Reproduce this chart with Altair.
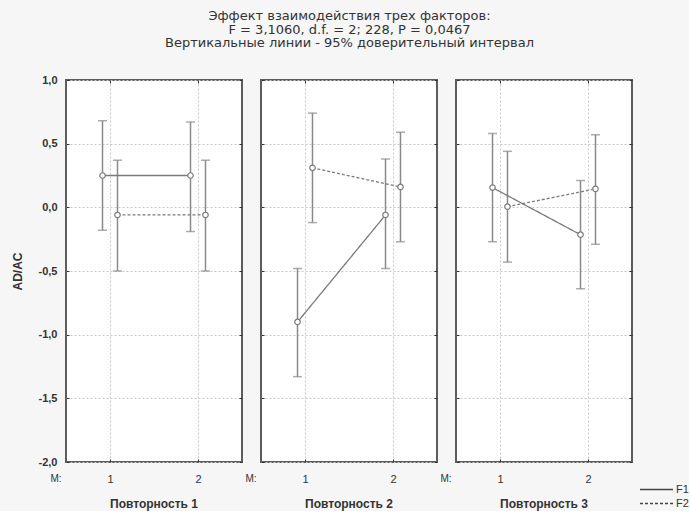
import altair as alt
import pandas as pd

# Three-way interaction: means of AD/AC with 95% confidence intervals
panel_names = ["Повторность 1", "Повторность 2", "Повторность 3"]
m_levels = [1, 2]
factor_names = ["F1", "F2"]

# per panel, per M level
f1_mean = [[0.25, 0.25], [-0.90, -0.06], [0.155, -0.215]]
f1_low = [[-0.18, -0.19], [-1.33, -0.48], [-0.27, -0.64]]
f1_high = [[0.68, 0.67], [-0.48, 0.38], [0.58, 0.21]]

f2_mean = [[-0.06, -0.06], [0.31, 0.16], [0.005, 0.145]]
f2_low = [[-0.50, -0.50], [-0.12, -0.27], [-0.43, -0.29]]
f2_high = [[0.37, 0.37], [0.74, 0.59], [0.44, 0.57]]

y_ticks = [1.0, 0.5, 0.0, -0.5, -1.0, -1.5, -2.0]

title_lines = [
    "Эффект взаимодействия трех факторов:",
    "F = 3,1060, d.f. = 2; 228, P = 0,0467",
    "Вертикальные линии - 95% доверительный интервал",
]

rows = []
for p, name in enumerate(panel_names):
    for fac, mean, lo, hi in [
        ("F1", f1_mean, f1_low, f1_high),
        ("F2", f2_mean, f2_low, f2_high),
    ]:
        for i, m in enumerate(m_levels):
            rows.append(
                {"panel": name, "factor": fac, "M": m,
                 "mean": mean[p][i], "lo": lo[p][i], "hi": hi[p][i]}
            )
df = pd.DataFrame(rows)

FONT = "Liberation Sans"
TEXT = "#333333"
GREY = "#8a8a8a"
LINE = "#7a7a7a"

comma_fmt = "replace(replace(format(datum.value, '.1f'), '.', ','), '\u2212', '-')"


def panel(name, first):
    base = alt.Chart(df).transform_filter(
        alt.datum.panel == name
    ).transform_calculate(
        xpos="datum.M + (datum.factor == 'F1' ? -0.085 : 0.085)"
    )
    xscale = alt.Scale(domain=[0.5, 2.5], nice=False, zero=False)
    yscale = alt.Scale(domain=[-2.0, 1.0], nice=False, zero=False)

    x_bottom = alt.Axis(
        values=m_levels, format="d", offset=-3, tickSize=3, tickColor="#333",
        domain=False, labelPadding=11, labelFontSize=11, labelColor=TEXT,
        labelFont=FONT, grid=True, gridColor="#c8c8c8", gridDash=[2, 2],
        title="M:", titleFontSize=10, titleFontWeight="normal", titleColor=TEXT,
        titleFont=FONT, titleX=-5, titleY=14, titleAlign="right",
        titleBaseline="top", titleAngle=0,
    )
    y_left = alt.Axis(
        values=y_ticks, labelExpr=comma_fmt, offset=-3, tickSize=3,
        tickColor="#333", domain=False, labelPadding=9, labelFontSize=11,
        labelColor=TEXT, labelFont=FONT, labelFontWeight="bold",
        labels=first, grid=True, gridColor="#c8c8c8", gridDash=[2, 2],
        title="AD/AC" if first else None, titleFontSize=12,
        titleFontWeight="bold", titleColor=TEXT, titleFont=FONT,
        titleAngle=270, titleX=-52, titleY=191, titleAlign="center",
        titleBaseline="middle",
    )
    y_right = alt.Axis(
        orient="right", values=y_ticks, offset=-3, tickSize=3,
        tickColor="#333", domain=False, labels=False, grid=False, title=None,
    )
    x_top = alt.Axis(
        orient="top", values=m_levels, offset=-3, tickSize=3,
        tickColor="#333", domain=False, labels=False, grid=False, title=None,
    )

    bars = base.mark_errorbar(
        ticks={"size": 9, "color": GREY, "strokeWidth": 1.5},
        color=GREY, thickness=1.5,
    ).encode(
        x=alt.X("xpos:Q", scale=xscale, axis=x_bottom),
        y=alt.Y("lo:Q", scale=yscale, axis=y_left),
        y2="hi:Q",
    )
    lines = base.mark_line(color=LINE, strokeWidth=1.3).encode(
        x=alt.X("xpos:Q", scale=xscale, axis=x_top),
        y=alt.Y("mean:Q", scale=yscale, axis=y_right),
        strokeDash=alt.StrokeDash(
            "factor:N",
            scale=alt.Scale(domain=factor_names, range=[[1, 0], [3, 2]]),
            legend=alt.Legend(
                orient="none", legendX=584, legendY=403, title=None,
                symbolType="M-3,0H3", symbolSize=121, symbolStrokeWidth=1.3,
                symbolStrokeColor="#444", labelFontSize=11, labelColor=TEXT,
                labelFont=FONT, rowPadding=2, labelOffset=13, padding=0,
            ),
        ),
        detail="factor:N",
    )
    pts = base.mark_point(
        shape="circle", size=30, filled=True, fill="white", stroke=LINE,
        strokeWidth=1.2, opacity=1,
    ).encode(
        x=alt.X("xpos:Q", scale=xscale, axis=None),
        y=alt.Y("mean:Q", scale=yscale, axis=None),
    )
    return alt.layer(bars, lines, pts).resolve_axis(
        x="independent", y="independent"
    ).properties(
        width=176, height=382,
        title=alt.TitleParams(
            name, orient="bottom", fontSize=12, fontWeight="bold",
            color=TEXT, font=FONT, offset=15,
        ),
    )


chart = alt.hconcat(
    *[panel(n, i == 0) for i, n in enumerate(panel_names)], spacing=-1
).properties(
    title=alt.TitleParams(
        title_lines, fontSize=13, fontWeight="normal", lineHeight=13.5,
        anchor="middle", color=TEXT, font="DejaVu Sans", offset=23,
    ),
    background="#f6f6f6",
    padding={"left": 10, "top": 10, "right": 0, "bottom": 0},
).configure_view(
    stroke="#5c5c5c", strokeWidth=2, fill="white"
)

chart.save("out.html", embed_options={"renderer": "svg", "actions": False})
